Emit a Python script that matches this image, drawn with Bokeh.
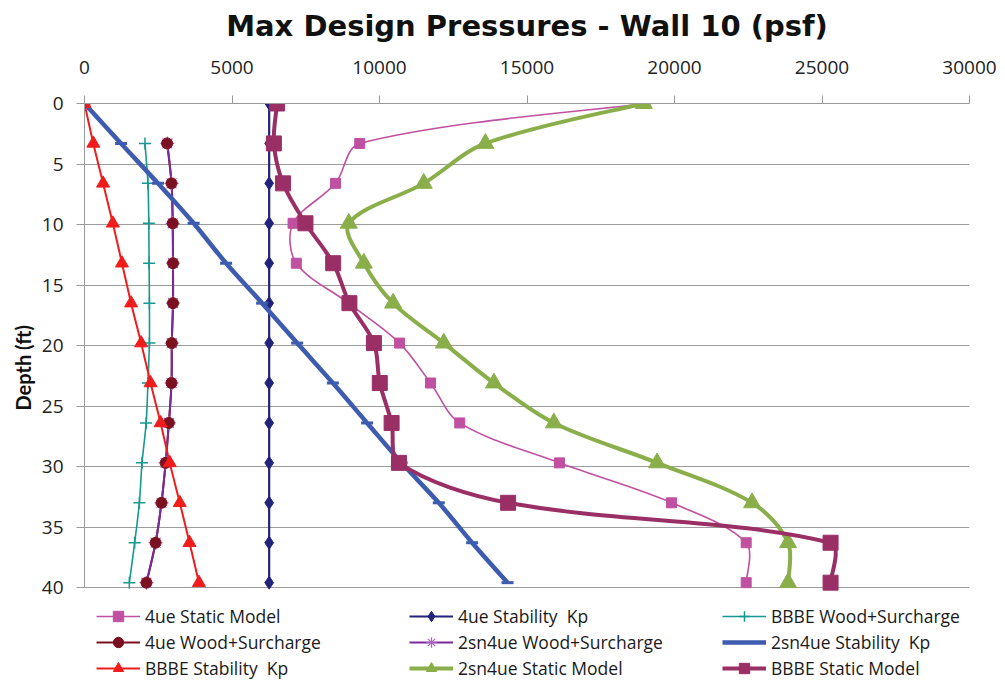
from bokeh.plotting import figure
from bokeh.models import (Range1d, FixedTicker, Legend, LegendItem, ColumnDataSource,
                          BasicTickFormatter, Title)
from bokeh.embed import file_html
from bokeh.resources import INLINE

# ---------------- data ----------------
title_text = "Max Design Pressures - Wall 10 (psf)"
y_label = "Depth (ft)"
x_ticks = [0, 5000, 10000, 15000, 20000, 25000, 30000]
y_ticks = [0, 5, 10, 15, 20, 25, 30, 35, 40]

depth = [0, 3.3, 6.6, 9.9, 13.2, 16.5, 19.8, 23.1, 26.4, 29.7, 33.0, 36.3, 39.6]
depth_ws = [3.3, 6.6, 9.9, 13.2, 16.5, 19.8, 23.1, 26.4, 29.7, 33.0, 36.3, 39.6]

ue4_static = [19000, 9330, 8510, 7070, 7180, 8950, 10680, 11730, 12720, 16100, 19900, 22430, 22430]
ue4_kp = [6260, 6260, 6260, 6260, 6260, 6260, 6260, 6260, 6260, 6260, 6260, 6260, 6260]
bbbe_wood = [2050, 2150, 2180, 2190, 2200, 2200, 2150, 2090, 1950, 1860, 1700, 1520]
ue4_wood = [2800, 2950, 2990, 3000, 3000, 2960, 2950, 2860, 2750, 2610, 2410, 2100]
sn_wood = [2810, 2950, 2990, 3000, 3000, 2960, 2950, 2860, 2750, 2610, 2410, 2100]
sn_kp = [0, 1240, 2490, 3700, 4800, 6020, 7210, 8420, 9580, 10750, 12010, 13140, 14340]
bbbe_kp = [0, 300, 630, 960, 1270, 1580, 1920, 2240, 2580, 2890, 3230, 3560, 3880]
sn_static = [18960, 13590, 11500, 8960, 9470, 10460, 12180, 13880, 15910, 19410, 22630, 23850, 23850]
bbbe_static = [6530, 6420, 6730, 7490, 8430, 8980, 9810, 10010, 10410, 10660, 14360, 25290, 25290]

series_names = ["4ue Static Model", "4ue Stability  Kp", "BBBE Wood+Surcharge",
                "4ue Wood+Surcharge", "2sn4ue Wood+Surcharge", "2sn4ue Stability  Kp",
                "BBBE Stability  Kp", "2sn4ue Static Model", "BBBE Static Model"]

FONT = "Open Sans"

# layout (pixels)
W, H = 1005, 681
LEFT, RIGHT, TOP = 84, 36, 103
PLOT_BOTTOM = 587            # pixel row of depth 40
FRAME_W = W - LEFT - RIGHT
# frame runs to the canvas bottom so that the legend can sit inside it
y_far = 40.0 * (H - TOP) / (PLOT_BOTTOM - TOP)
PX_X = FRAME_W / 30000.0
PX_Y = (PLOT_BOTTOM - TOP) / 40.0


def smooth_source(xs, ys):
    """Excel-like smoothed line: cubic Bezier pieces whose control points follow the
    neighbouring points, weighted by the on-screen segment lengths."""
    n = len(xs)
    seg = [((xs[i + 1] - xs[i]) ** 2 * PX_X ** 2 + (ys[i + 1] - ys[i]) ** 2 * PX_Y ** 2) ** 0.5
           for i in range(n - 1)]

    def tangent(i):
        if i == 0:
            return xs[1] - xs[0], ys[1] - ys[0], 0.5
        if i == n - 1:
            return xs[i] - xs[i - 1], ys[i] - ys[i - 1], 0.5
        tot = seg[i - 1] + seg[i]
        return xs[i + 1] - xs[i - 1], ys[i + 1] - ys[i - 1], tot

    d = dict(x0=[], y0=[], x1=[], y1=[], cx0=[], cy0=[], cx1=[], cy1=[])
    for i in range(n - 1):
        tx0, ty0, tot0 = tangent(i)
        tx1, ty1, tot1 = tangent(i + 1)
        w0 = 0.5 if i == 0 else (seg[i] / tot0 if tot0 else 0.5)
        w1 = 0.5 if i + 1 == n - 1 else (seg[i] / tot1 if tot1 else 0.5)
        d["x0"].append(xs[i]); d["y0"].append(ys[i])
        d["x1"].append(xs[i + 1]); d["y1"].append(ys[i + 1])
        d["cx0"].append(xs[i] + tx0 * w0 / 3.0)
        d["cy0"].append(ys[i] + ty0 * w0 / 3.0)
        d["cx1"].append(xs[i + 1] - tx1 * w1 / 3.0)
        d["cy1"].append(ys[i + 1] - ty1 * w1 / 3.0)
    return ColumnDataSource(d)


p = figure(width=W, height=H, output_backend="svg", toolbar_location=None,
           x_range=Range1d(0, 30000), y_range=Range1d(y_far, 0),
           x_axis_location="above",
           min_border_left=LEFT, min_border_right=RIGHT, min_border_top=TOP, min_border_bottom=0)

p.outline_line_color = None
p.background_fill_color = "white"
p.border_fill_color = "white"

# axes
xa = p.xaxis[0]
xa.ticker = FixedTicker(ticks=x_ticks)
xa.formatter = BasicTickFormatter(use_scientific=False)
xa.axis_line_color = "#9a9a9a"
xa.major_tick_line_color = "#9a9a9a"
xa.major_tick_out = 8
xa.major_tick_in = 0
xa.minor_tick_line_color = None
xa.major_label_standoff = 22
xa.major_label_text_font = FONT
xa.major_label_text_font_size = "19px"
xa.major_label_text_color = "#222222"
# chart title, carried by the top axis
xa.axis_label = title_text
xa.axis_label_text_font = "DejaVu Sans"
xa.axis_label_text_font_style = "bold"
xa.axis_label_text_font_size = "29px"
xa.axis_label_text_color = "#111111"
xa.axis_label_standoff = 15

ya = p.yaxis[0]
ya.ticker = FixedTicker(ticks=y_ticks)
ya.bounds = (0, 40)
ya.axis_line_color = "#9a9a9a"
ya.major_tick_line_color = "#9a9a9a"
ya.major_tick_out = 8
ya.major_tick_in = 0
ya.minor_tick_line_color = None
ya.major_label_standoff = 13
ya.major_label_text_font = FONT
ya.major_label_text_font_size = "19px"
ya.major_label_text_color = "#222222"

ytitle = Title(text=y_label, align="left", offset=H - 410, vertical_align="bottom",
               standoff=8, text_font="Lato", text_font_style="bold",
               text_font_size="20px", text_color="#111111")
p.add_layout(ytitle, "left")

p.xgrid.grid_line_color = None
p.ygrid.ticker = FixedTicker(ticks=y_ticks)
p.ygrid.grid_line_color = "#9c9c9c"
p.ygrid.grid_line_width = 1

items = []


def add_series(name, xs, ys, color, lw, marker, msize, mlw=1.0, fill=True):
    line = p.bezier(x0="x0", y0="y0", x1="x1", y1="y1", cx0="cx0", cy0="cy0",
                    cx1="cx1", cy1="cy1", source=smooth_source(xs, ys),
                    line_color=color, line_width=lw)
    sc = p.scatter(xs, ys, marker=marker, size=msize, line_color=color,
                   fill_color=color if fill else None, line_width=mlw)
    items.append(LegendItem(label=name, renderers=[line, sc]))
    return line, sc


add_series(series_names[0], ue4_static, depth, "#c050a0", 1.6, "square", 10)
add_series(series_names[1], ue4_kp, depth, "#23237a", 2.2, "diamond", 13)
add_series(series_names[2], bbbe_wood, depth_ws, "#16998e", 1.6, "cross", 12, 1.5, False)

# 4ue Wood (maroon) and 2sn4ue Wood (purple): circles sit on top of the purple asterisks
l4 = p.bezier(x0="x0", y0="y0", x1="x1", y1="y1", cx0="cx0", cy0="cy0", cx1="cx1", cy1="cy1",
              source=smooth_source(ue4_wood, depth_ws), line_color="#7b1020", line_width=2)
l5 = p.bezier(x0="x0", y0="y0", x1="x1", y1="y1", cx0="cx0", cy0="cy0", cx1="cx1", cy1="cy1",
              source=smooth_source(sn_wood, depth_ws), line_color="#7a2a9c", line_width=2)
s5 = p.scatter(sn_wood, depth_ws, marker="asterisk", size=14, line_color="#b060c0", line_width=1.2)
s4 = p.scatter(ue4_wood, depth_ws, marker="circle", size=11, line_color="#7b1020", fill_color="#7b1020")
items.append(LegendItem(label=series_names[3], renderers=[l4, s4]))
items.append(LegendItem(label=series_names[4], renderers=[l5, s5]))

add_series(series_names[5], sn_kp, depth, "#3d5caf", 4.5, "dash", 12, 3)
add_series(series_names[6], bbbe_kp, depth, "#f01c1c", 2, "triangle", 13)
add_series(series_names[7], sn_static, depth, "#8aae4a", 4, "triangle", 17)
add_series(series_names[8], bbbe_static, depth, "#9a2f66", 4, "square", 15)

legend = Legend(items=items, orientation="horizontal", ncols=3,
                location=(12, 0),
                margin=0, padding=0, spacing=0,
                glyph_width=44, glyph_height=26, label_height=26, label_width=264,
                label_standoff=5,
                label_text_font=FONT, label_text_font_size="17.5px",
                label_text_color="#1a1a1a",
                border_line_color=None, background_fill_alpha=0)
p.add_layout(legend, "center")

open("out.html", "w").write(file_html(p, INLINE))
